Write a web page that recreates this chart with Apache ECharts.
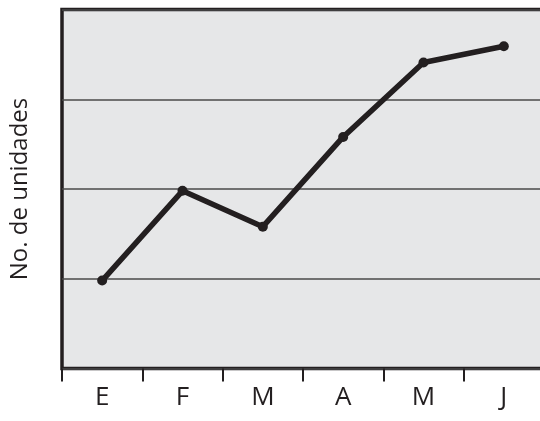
<!DOCTYPE html>
<html>
<head>
<meta charset="utf-8">
<script src="https://cdn.jsdelivr.net/npm/echarts@6/dist/echarts.min.js"></script>
<style>html,body{margin:0;padding:0;background:#fff;overflow:hidden}#c{width:550px;height:421px}</style>
</head>
<body>
<div id="c"></div>
<script>
var categories = ['E', 'F', 'M', 'A', 'M', 'J'];
var units = [0.98, 1.98, 1.58, 2.58, 3.41, 3.59];
var yAxisName = 'No. de unidades';

var chart = echarts.init(document.getElementById('c'), null, {renderer: 'canvas'});
chart.setOption({
  animation: false,
  grid: {
    left: 58.5, top: 9.5, right: 6, bottom: 52.5,
    show: true, backgroundColor: '#e6e7e8', borderColor: '#231f20', borderWidth: 3.5
  },
  xAxis: {
    type: 'category',
    data: categories,
    boundaryGap: true,
    axisLine: {show: false},
    axisTick: {show: true, length: 13, lineStyle: {color: '#231f20', width: 2}},
    axisLabel: {color: '#231f20', fontSize: 26, fontFamily: 'Open Sans', margin: 16}
  },
  yAxis: {
    type: 'value',
    min: 0, max: 4, interval: 1,
    name: yAxisName,
    nameLocation: 'middle',
    nameGap: 30,
    nameTextStyle: {color: '#231f20', fontSize: 24, fontFamily: 'Open Sans'},
    axisLine: {show: false},
    axisTick: {show: false},
    axisLabel: {show: false},
    splitLine: {show: true, lineStyle: {color: '#4a4a4a', width: 1.5}}
  },
  series: [{
    type: 'line',
    data: units,
    symbol: 'circle',
    symbolSize: 10,
    lineStyle: {color: '#231f20', width: 5.5},
    itemStyle: {color: '#231f20'}
  }]
});
</script>
</body>
</html>
